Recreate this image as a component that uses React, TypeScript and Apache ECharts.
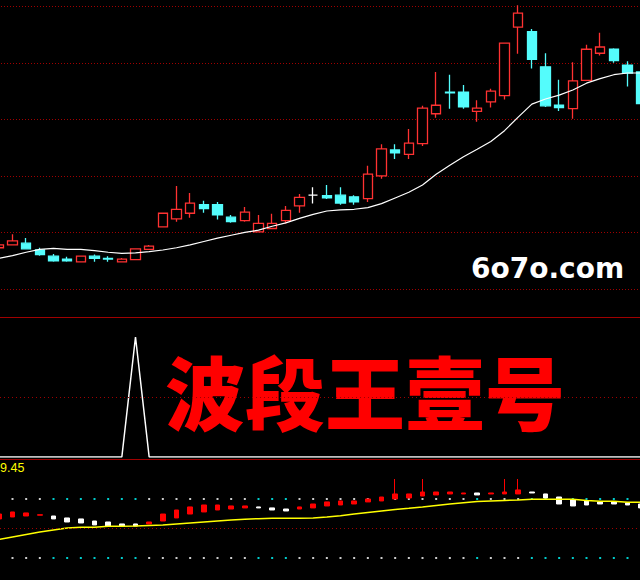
import React, { useEffect, useRef } from "react";
import * as echarts from "echarts";

// main price candles: [open, close, low, high]
const priceOHLC: number[][] = [
  [10.73, 10.78, 10.73, 10.78],
  [10.78, 10.85, 10.77, 10.97],
  [10.81, 10.71, 10.7, 10.9],
  [10.69, 10.61, 10.59, 10.73],
  [10.58, 10.5, 10.48, 10.62],
  [10.53, 10.5, 10.48, 10.57],
  [10.48, 10.58, 10.48, 10.58],
  [10.58, 10.54, 10.48, 10.61],
  [10.54, 10.53, 10.48, 10.58],
  [10.48, 10.53, 10.48, 10.55],
  [10.52, 10.71, 10.52, 10.71],
  [10.7, 10.76, 10.7, 10.78],
  [11.1, 11.34, 11.1, 11.34],
  [11.24, 11.41, 11.19, 11.82],
  [11.34, 11.52, 11.26, 11.7],
  [11.49, 11.42, 11.35, 11.56],
  [11.49, 11.31, 11.23, 11.54],
  [11.27, 11.19, 11.17, 11.31],
  [11.21, 11.36, 11.19, 11.45],
  [11.01, 11.16, 11.01, 11.31],
  [11.07, 11.16, 11.07, 11.33],
  [11.21, 11.39, 11.16, 11.47],
  [11.47, 11.62, 11.35, 11.68],
  [11.66, 11.66, 11.51, 11.8],
  [11.65, 11.61, 11.59, 11.84],
  [11.66, 11.52, 11.49, 11.8],
  [11.63, 11.54, 11.49, 11.66],
  [11.6, 12.03, 11.54, 12.18],
  [12.0, 12.48, 11.95, 12.56],
  [12.46, 12.41, 12.3, 12.56],
  [12.38, 12.58, 12.3, 12.83],
  [12.57, 13.2, 12.53, 13.24],
  [13.1, 13.25, 13.03, 13.84],
  [13.48, 13.47, 13.19, 13.79],
  [13.48, 13.22, 13.19, 13.61],
  [13.14, 13.2, 12.96, 13.34],
  [13.31, 13.5, 13.21, 13.54],
  [13.42, 14.35, 13.35, 14.35],
  [14.63, 14.88, 14.16, 15.02],
  [14.55, 14.06, 13.9, 14.6],
  [13.93, 13.24, 13.22, 14.17],
  [13.25, 13.21, 13.15, 13.7],
  [13.19, 13.68, 13.01, 14.01],
  [13.69, 14.24, 13.69, 14.32],
  [14.17, 14.28, 14.13, 14.53],
  [14.24, 14.04, 14.0, 14.26],
  [13.96, 13.82, 13.58, 14.03],
  [13.84, 13.28, 13.28, 13.84],
];

// moving average line on price panel
const priceMA: number[] = [
  10.54, 10.59, 10.65, 10.7, 10.72, 10.7, 10.7, 10.68, 10.65, 10.63, 10.64, 10.66,
  10.69, 10.73, 10.78, 10.84, 10.9, 10.95, 11.0, 11.04, 11.11, 11.17, 11.25, 11.32,
  11.38, 11.4, 11.41, 11.44, 11.51, 11.61, 11.71, 11.84, 12.03, 12.19, 12.34, 12.47,
  12.61, 12.8, 13.04, 13.27, 13.36, 13.43, 13.52, 13.64, 13.72, 13.79, 13.82, 13.82,
];

// middle panel signal line
const signalLine: number[] = [
  0, 0, 0, 0, 0, 0, 0, 0, 0, 0, 100, 0, 0, 0, 0, 0, 0, 0, 0, 0, 0, 0, 0, 0,
  0, 0, 0, 0, 0, 0, 0, 0, 0, 0, 0, 0, 0, 0, 0, 0, 0, 0, 0, 0, 0, 0, 0, 0,
];

// lower panel bars: [open, close, low, high]
const oscBars: number[][] = [
  [59.7, 64.7, 59.7, 64.7],
  [61.7, 66.8, 61.7, 66.8],
  [62.7, 65.8, 62.7, 65.8],
  [63.5, 64.0, 63.5, 64.0],
  [62.7, 59.7, 59.7, 62.7],
  [60.7, 56.6, 56.6, 60.7],
  [59.7, 55.6, 55.6, 59.7],
  [57.6, 53.6, 53.6, 57.6],
  [56.6, 52.5, 52.5, 56.6],
  [54.6, 52.5, 52.5, 54.6],
  [54.6, 52.5, 52.5, 54.6],
  [54.6, 56.6, 54.6, 56.6],
  [57.6, 64.7, 57.6, 64.7],
  [60.7, 68.8, 60.7, 68.8],
  [64.7, 71.9, 64.7, 71.9],
  [66.8, 73.9, 66.8, 73.9],
  [68.8, 73.9, 68.8, 73.9],
  [69.8, 72.9, 69.8, 72.9],
  [70.9, 72.9, 70.9, 72.9],
  [71.9, 70.9, 70.9, 71.9],
  [70.9, 68.8, 68.8, 70.9],
  [69.8, 67.8, 67.8, 69.8],
  [69.8, 71.9, 69.8, 71.9],
  [70.9, 74.9, 70.9, 74.9],
  [72.9, 77.0, 72.9, 77.0],
  [73.9, 78.0, 73.9, 78.0],
  [74.9, 78.0, 74.9, 78.0],
  [77.0, 80.0, 77.0, 80.0],
  [78.0, 82.0, 78.0, 82.0],
  [80.0, 85.1, 80.0, 100.3],
  [81.0, 85.1, 81.0, 85.1],
  [83.0, 87.1, 83.0, 100.3],
  [84.1, 87.1, 84.1, 87.1],
  [85.1, 87.1, 85.1, 87.1],
  [85.1, 86.1, 85.1, 86.1],
  [86.1, 84.1, 84.1, 86.1],
  [85.1, 86.1, 85.1, 86.1],
  [85.1, 87.1, 85.1, 100.3],
  [85.1, 89.2, 85.1, 100.3],
  [87.1, 86.1, 86.1, 87.1],
  [85.1, 81.0, 81.0, 85.1],
  [82.0, 74.9, 74.9, 82.0],
  [79.0, 72.9, 72.9, 79.0],
  [78.0, 73.9, 73.9, 78.0],
  [77.0, 74.9, 74.9, 77.0],
  [77.0, 74.9, 74.9, 77.0],
  [75.9, 73.9, 73.9, 75.9],
  [74.9, 70.9, 70.9, 74.9],
];

// lower panel yellow line
const oscLine: number[] = [
  38.8, 41.4, 43.9, 46.4, 48.5, 50.5, 51.2, 51.2, 52.2, 52.2, 52.5, 53.1,
  53.6, 54.6, 55.6, 56.6, 57.6, 58.6, 59.4, 60.0, 60.4, 60.4, 60.4, 60.7,
  61.7, 62.9, 64.7, 66.3, 67.8, 69.3, 70.5, 71.9, 73.4, 74.9, 76.2, 77.5,
  78.0, 78.5, 79.0, 79.7, 79.7, 79.7, 79.7, 78.5, 77.7, 77.7, 76.6, 76.6,
];

const categories: string[] = priceOHLC.map((_, i) => String(i + 1));
const dotLevels: number[] = [80, 20];
const lastValueLabel = "9.45";
const titleText = "波段王壹号";
const siteText = "6o7o.com";

const RED = "#ff3232";
const CYAN = "#54fcfc";
const GRID_RED = "#a00000";
const OFFSET = 8; // chart canvas starts 8px left of the page edge

export default function App() {
  const ref = useRef<HTMLDivElement>(null);
  useEffect(() => {
    if (!ref.current) return;
    const chart = echarts.init(ref.current, undefined, { renderer: "svg" });

    const mainData = priceOHLC.map((d) =>
      d[0] === d[1]
        ? {
            value: d,
            itemStyle: { color: "#ffffff", color0: "#ffffff", borderColor: "#ffffff", borderColor0: "#ffffff" },
          }
        : d
    );

    const dotSeries = dotLevels.map((lvl) => ({
      type: "scatter",
      xAxisIndex: 2,
      yAxisIndex: 2,
      symbol: "rect",
      symbolSize: 2,
      silent: true,
      data: oscBars.map((b, i) => ({
        value: [categories[i], lvl],
        itemStyle: { color: b[1] < b[0] ? "#00ffff" : "#ffffff" },
      })),
    }));

    const gridBase = { left: 0, right: 0 };
    chart.setOption({
      animation: false,
      backgroundColor: "#000000",
      grid: [
        { ...gridBase, top: 6.3, height: 282.7 },
        { ...gridBase, top: 337, height: 120 },
        { ...gridBase, top: 479.3, height: 78.7 },
      ],
      xAxis: [0, 1, 2].map((g) => ({
        type: "category",
        gridIndex: g,
        data: categories,
        boundaryGap: true,
        show: false,
      })),
      yAxis: [
        {
          type: "value",
          gridIndex: 0,
          min: 10,
          max: 15,
          interval: 1,
          axisLine: { show: false },
          axisTick: { show: false },
          axisLabel: { show: false },
          splitLine: { show: true, lineStyle: { color: GRID_RED, type: [1, 2], width: 1 } },
        },
        { type: "value", gridIndex: 1, min: 0, max: 100, show: false },
        { type: "value", gridIndex: 2, min: 20, max: 100, show: false },
      ],
      series: [
        {
          type: "candlestick",
          xAxisIndex: 0,
          yAxisIndex: 0,
          clip: false,
          barWidth: 10,
          data: mainData,
          itemStyle: {
            color: "#000000",
            color0: CYAN,
            borderColor: RED,
            borderColor0: CYAN,
            borderWidth: 1.3,
          },
        },
        {
          type: "line",
          xAxisIndex: 0,
          yAxisIndex: 0,
          data: priceMA,
          symbol: "none",
          lineStyle: { color: "#ffffff", width: 1.2 },
        },
        {
          type: "line",
          xAxisIndex: 1,
          yAxisIndex: 1,
          data: signalLine,
          symbol: "none",
          lineStyle: { color: "#ffffff", width: 1.5 },
          markLine: {
            silent: true,
            symbol: ["none", "none"],
            label: { show: false },
            lineStyle: { color: GRID_RED, type: [1, 3], width: 1 },
            data: [{ yAxis: 50 }],
          },
        },
        {
          type: "line",
          xAxisIndex: 2,
          yAxisIndex: 2,
          data: oscLine,
          symbol: "none",
          lineStyle: { color: "#ffff00", width: 1.5 },
          markLine: {
            silent: true,
            symbol: ["none", "none"],
            label: { show: false },
            lineStyle: { color: GRID_RED, type: [1, 3], width: 1 },
            data: [{ yAxis: 50 }],
          },
        },
        ...dotSeries,
        {
          type: "candlestick",
          xAxisIndex: 2,
          yAxisIndex: 2,
          clip: false,
          barWidth: 5,
          data: oscBars,
          itemStyle: {
            color: "#ff0000",
            color0: "#ffffff",
            borderColor: "#ff0000",
            borderColor0: "#ffffff",
            borderWidth: 1,
          },
        },
      ],
      graphic: [
        {
          type: "line",
          silent: true,
          shape: { x1: 0, y1: 317.5, x2: 640 + 2 * OFFSET, y2: 317.5 },
          style: { stroke: GRID_RED, lineWidth: 1 },
        },
        {
          type: "line",
          silent: true,
          shape: { x1: 0, y1: 459.5, x2: 640 + 2 * OFFSET, y2: 459.5 },
          style: { stroke: GRID_RED, lineWidth: 1 },
        },
        {
          type: "text",
          silent: true,
          x: 365 + OFFSET,
          y: 389,
          style: {
            text: titleText,
            fill: "#ff0000",
            font: "900 80px 'Noto Sans CJK SC'",
            textAlign: "center",
            textVerticalAlign: "middle",
          },
        },
        {
          type: "text",
          silent: true,
          x: 471 + OFFSET,
          y: 268,
          style: {
            text: siteText,
            fill: "#ffffff",
            font: "bold 28px 'DejaVu Sans'",
            textAlign: "left",
            textVerticalAlign: "middle",
          },
        },
        {
          type: "text",
          silent: true,
          x: 0 + OFFSET,
          y: 467.5,
          style: {
            text: lastValueLabel,
            fill: "#ffff00",
            font: "12.5px 'Liberation Sans'",
            textAlign: "left",
            textVerticalAlign: "middle",
          },
        },
      ],
    });
    return () => chart.dispose();
  }, []);

  return (
    <div
      style={{
        position: "fixed",
        left: 0,
        top: 0,
        width: 640,
        height: 580,
        overflow: "hidden",
        background: "#000",
      }}
    >
      <div
        ref={ref}
        style={{ position: "absolute", left: -OFFSET, top: 0, width: 640 + 2 * OFFSET, height: 580 }}
      />
    </div>
  );
}
